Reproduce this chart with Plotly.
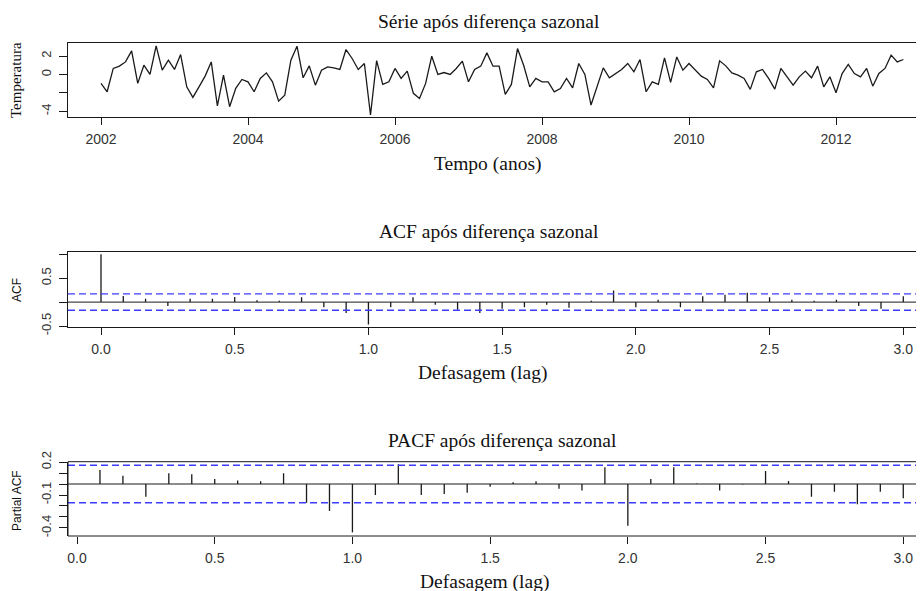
import plotly.graph_objects as go

# ---------------- data ----------------
start_year = 2002
freq = 12
serie = [-0.97, -1.88, 0.65, 0.9, 1.36, 2.55, -0.97, 1.0, 0.0, 3.1, 0.46, 1.55,
         0.54, 2.16, -1.34, -2.49, -1.34, -0.18, 1.36, -3.4, -0.08, -3.5, -1.5, -0.54,
         -0.8, -1.88, -0.43, 0.17, -0.8, -2.89, -2.24, 1.55, 3.06, -0.36, 0.93, -1.16,
         0.46, 0.82, 0.71, 0.54, 2.7, 1.73, 0.54, 1.19, -4.4, 1.5, -1.08, -0.8,
         0.65, -0.43, 0.36, -2.05, -2.6, -0.97, 1.98, 0.0, 0.21, 0.0, 0.65, 1.44,
         -0.8, 0.54, 0.9, 2.34, 0.9, 0.9, -2.16, -1.08, 2.81, 1.0, -1.34, -0.43,
         -0.8, -0.8, -1.88, -1.52, -0.43, -1.45, 1.19, 0.0, -3.32, -1.34, 0.71, -0.36,
         0.1, 0.54, 1.19, 0.28, 1.62, -1.88, -0.8, -1.08, 1.8, -0.85, 1.9, 0.46,
         1.19, 0.46, -0.18, -0.54, -1.45, 1.48, 0.93, 0.17, -0.08, -0.43, -1.62, 0.28,
         0.54, -0.43, -1.59, 0.65, -0.26, -1.16, -0.26, 0.36, -0.36, 0.9, -1.34, -0.26,
         -1.99, 0.1, 1.08, 0.1, -0.26, 0.65, -1.27, 0.1, 0.65, 2.09, 1.36, 1.62]
tempo = [start_year + i / freq for i in range(len(serie))]

acf_vals = [1.0, 0.126, 0.07, -0.084, 0.07, 0.07, 0.105, 0.04, 0.03, 0.1, -0.105, -0.23,
            -0.47, -0.105, 0.1, -0.056, -0.16, -0.23, -0.14, -0.105, -0.056, -0.12, 0.03, 0.244,
            -0.105, 0.05, -0.105, 0.12, 0.153, 0.195, 0.1, 0.05, 0.03, 0.05, -0.084, -0.14, 0.12]
acf_lags = [k / freq for k in range(len(acf_vals))]

pacf_vals = [0.127, 0.076, -0.115, 0.097, 0.088, 0.045, 0.033, 0.024, 0.097, -0.17, -0.245, -0.44,
             -0.1, 0.179, -0.1, -0.09, -0.079, -0.024, 0.015, 0.024, -0.042, -0.06, 0.152, -0.38,
             0.045, 0.152, 0.005, -0.06, -0.005, 0.118, 0.027, -0.115, -0.07, -0.185, -0.07, -0.13]
pacf_lags = [(k + 1) / freq for k in range(len(pacf_vals))]

year_ticks = [2002, 2004, 2006, 2008, 2010, 2012]
lag_ticks = [0.0, 0.5, 1.0, 1.5, 2.0, 2.5, 3.0]
lag_tick_text = ["0.0", "0.5", "1.0", "1.5", "2.0", "2.5", "3.0"]

ci = 1.96 / len(serie) ** 0.5

# ---------------- figure ----------------
W, H = 924, 591
OFF = 8  # page body margin offset
def px(x):
    return (x - OFF) / W
def py(y):
    return 1 - (y - OFF) / H

SANS = "Liberation Sans, Arial, sans-serif"
SERIF = "Liberation Serif, Times New Roman, serif"
INK = "#1a1a1a"
BLUE = "#3c3cff"

def spikes(lags, vals):
    xs, ys = [], []
    for l, v in zip(lags, vals):
        xs += [l, l, None]
        ys += [0, v, None]
    return xs, ys

fig = go.Figure()
fig.add_trace(go.Scatter(x=tempo, y=serie, mode="lines", xaxis="x", yaxis="y",
                         line=dict(color=INK, width=1.3), hoverinfo="skip"))

ax, ay = spikes(acf_lags, acf_vals)
fig.add_trace(go.Scatter(x=ax, y=ay, mode="lines", xaxis="x2", yaxis="y2",
                         line=dict(color=INK, width=1.3), hoverinfo="skip"))
bx, by = spikes(pacf_lags, pacf_vals)
fig.add_trace(go.Scatter(x=bx, y=by, mode="lines", xaxis="x3", yaxis="y3",
                         line=dict(color=INK, width=1.3), hoverinfo="skip"))

for k in ("2", "3"):
    fig.add_shape(type="line", xref=f"x{k} domain", yref=f"y{k}", x0=0, x1=1, y0=0, y1=0,
                  line=dict(color=INK, width=1))
    for c in (ci, -ci):
        fig.add_shape(type="line", xref=f"x{k} domain", yref=f"y{k}", x0=0, x1=1, y0=c, y1=c,
                      line=dict(color=BLUE, width=1.3, dash="7px,4px"))

xdom = [px(68), 1.0]
common_x = dict(showgrid=False, zeroline=False, showline=True, mirror=True, linecolor=INK,
                linewidth=1, ticks="outside", ticklen=7, tickcolor=INK, automargin=False,
                ticklabelstandoff=2,
                tickfont=dict(family=SANS, size=14, color="#333333"), domain=xdom,
                fixedrange=True)
common_y = dict(showgrid=False, zeroline=False, showline=True, mirror=False, linecolor=INK,
                linewidth=1, ticks="outside", ticklen=8, tickcolor=INK, tickangle=-90,
                automargin=False, ticklabelstandoff=3,
                tickfont=dict(family=SANS, size=13, color="#333333"), fixedrange=True)

fig.update_layout(
    width=W, height=H, margin=dict(l=0, r=0, t=0, b=0, pad=0),
    paper_bgcolor="white", plot_bgcolor="white", showlegend=False,
    xaxis=dict(common_x, anchor="y", range=[2001.551, 2013.306], tickvals=year_ticks,
               ticktext=[str(y) for y in year_ticks]),
    yaxis=dict(common_y, anchor="x", domain=[py(117.3), py(42.7)], range=[-4.647, 3.443],
               tickvals=[-4, -2, 0, 2], ticktext=["-4", "", "0", "2"]),
    xaxis2=dict(common_x, anchor="y2", range=[-0.1234, 3.1074], tickvals=lag_ticks,
                ticktext=lag_tick_text),
    yaxis2=dict(common_y, anchor="x2", domain=[py(327.3), py(252.3)], range=[-0.527, 1.042],
                tickvals=[-0.5, 0, 0.5, 1.0], ticktext=["-0.5", "", "0.5", ""]),
    xaxis3=dict(common_x, anchor="y3", range=[-0.0327, 3.1043], tickvals=lag_ticks,
                ticktext=lag_tick_text, showline=False, mirror=False),
    yaxis3=dict(common_y, anchor="x3", domain=[py(536), py(461.7)], range=[-0.473, 0.203],
                tickvals=[-0.4, -0.3, -0.2, -0.1, 0, 0.1, 0.2],
                ticktext=["-0.4", "", "", "-0.1", "", "", "0.2"]),
)
# PACF box (R draws a box; axis ticks hang below)
fig.add_shape(type="rect", xref="x3 domain", yref="y3 domain", x0=0, x1=1.01, y0=0, y1=1,
              line=dict(color=INK, width=1))

def text(t, x, y, size, family, angle=0, color="#111111"):
    fig.add_annotation(text=t, x=px(x), y=py(y), xref="paper", yref="paper",
                       showarrow=False, xanchor="center", yanchor="middle", textangle=angle,
                       font=dict(family=family, size=size, color=color))

text("Série após diferença sazonal", 489, 21, 19.5, SERIF)
text("Tempo (anos)", 488, 164, 19.5, SERIF)
text("Temperatura", 16, 80, 15, SERIF, angle=-90)

text("ACF após diferença sazonal", 489, 231, 19.5, SERIF)
text("Defasagem (lag)", 482, 373, 19.5, SERIF)
text("ACF", 17, 290, 12, SANS, angle=-90)

text("PACF após diferença sazonal", 502, 440, 19.5, SERIF)
text("Defasagem (lag)", 484, 582, 19.5, SERIF)
text("Partial ACF", 17, 501, 12, SANS, angle=-90)

fig.write_html("out.html")
